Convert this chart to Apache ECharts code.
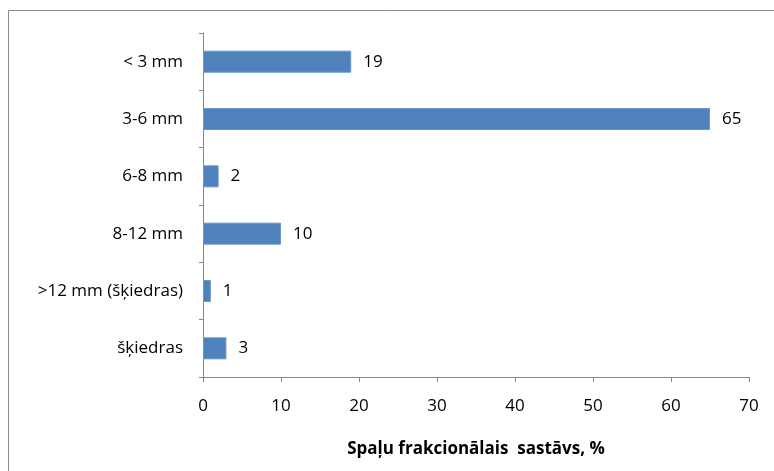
<!DOCTYPE html>
<html>
<head>
<meta charset="utf-8">
<script src="https://cdn.jsdelivr.net/npm/echarts@6/dist/echarts.min.js"></script>
<style>
  html, body { margin: 0; padding: 0; background: #fff; }
  #chart { width: 774px; height: 471px; }
</style>
</head>
<body>
<div id="chart"></div>
<script>
// Chip fraction categories (top to bottom) and their shares, %
const categories = ['< 3 mm', '3-6 mm', '6-8 mm', '8-12 mm', '>12 mm (šķiedras)', 'šķiedras'];
const shares = [19, 65, 2, 10, 1, 3];
const axisTitle = 'Spaļu frakcionālais  sastāvs, %';

const FONT = '"Open Sans", "Noto Sans", sans-serif';
const AXIS_GRAY = '#868686';

const chart = echarts.init(document.getElementById('chart'), null, { renderer: 'canvas' });
chart.setOption({
  animation: false,
  backgroundColor: '#ffffff',
  graphic: [{
    type: 'rect',
    shape: { x: 8.5, y: 10.5, width: 820, height: 520 },
    style: { fill: 'none', stroke: '#8c8c8c', lineWidth: 1 },
    silent: true,
    z: -1
  }],
  grid: { left: 203, right: 25, top: 33, bottom: 94, containLabel: false },
  xAxis: {
    type: 'value',
    min: 0, max: 70, interval: 10,
    name: axisTitle,
    nameLocation: 'middle',
    nameGap: 64,
    nameTextStyle: { fontFamily: FONT, fontSize: 17, fontWeight: 'bold', color: '#000' },
    axisLine: { show: true, lineStyle: { color: AXIS_GRAY, width: 1 } },
    axisTick: { show: true, length: 5, lineStyle: { color: AXIS_GRAY } },
    axisLabel: { fontFamily: FONT, fontSize: 17, color: '#000', margin: 21 },
    splitLine: { show: false }
  },
  yAxis: {
    type: 'category',
    inverse: true,
    data: categories,
    axisLine: { show: true, lineStyle: { color: AXIS_GRAY, width: 1 } },
    axisTick: { show: true, length: 4, alignWithLabel: false, lineStyle: { color: AXIS_GRAY } },
    axisLabel: { fontFamily: FONT, fontSize: 17, color: '#000', margin: 20 }
  },
  series: [{
    type: 'bar',
    data: shares,
    barWidth: 22,
    itemStyle: { color: '#4f81bd', borderColor: '#6b95c8', borderWidth: 1 },
    label: {
      show: true,
      position: 'right',
      distance: 12,
      fontFamily: FONT,
      fontSize: 17,
      color: '#000'
    }
  }]
});
</script>
</body>
</html>
